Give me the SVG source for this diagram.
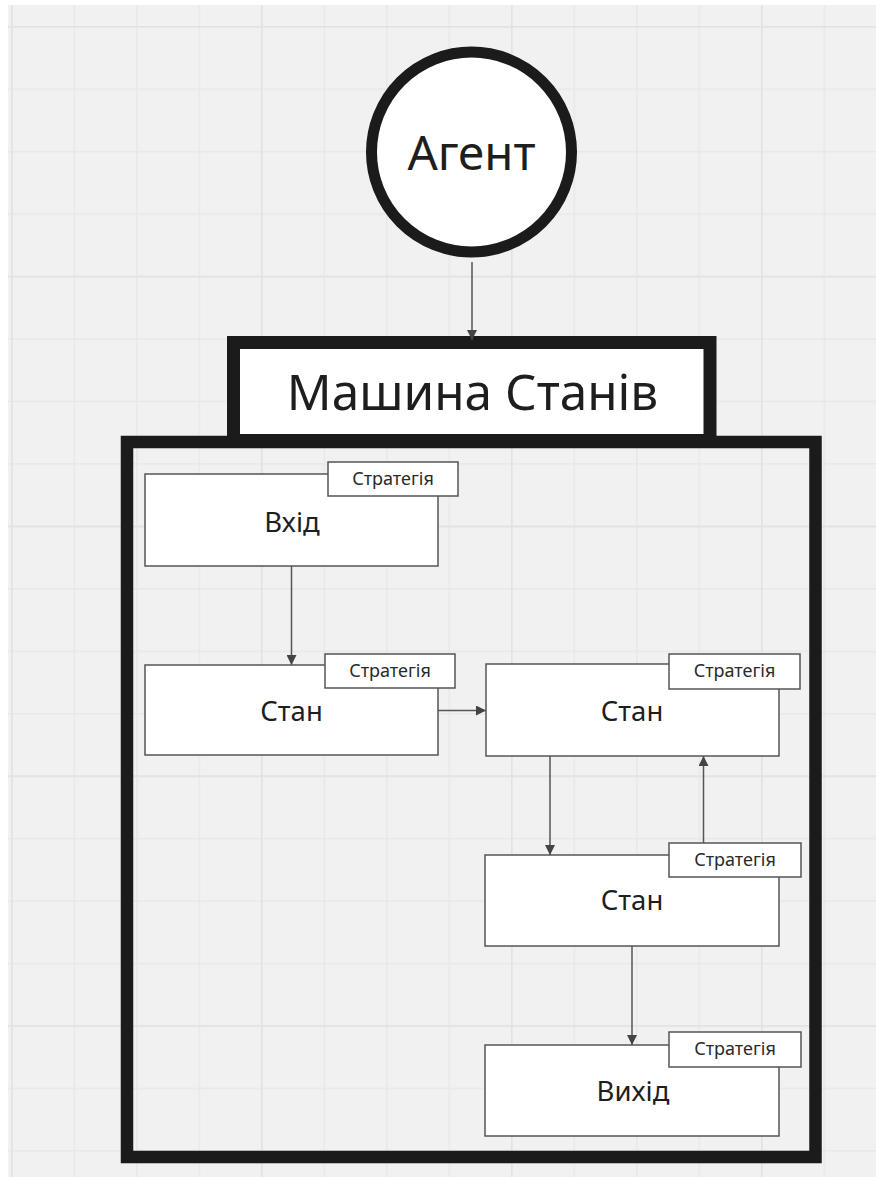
<svg xmlns="http://www.w3.org/2000/svg" width="876" height="1177" viewBox="0 0 876 1177">
<defs>
<pattern id="minor" x="11" y="26" width="62.5" height="62.45" patternUnits="userSpaceOnUse">
<path d="M0.75 0V62.45M0 0.75H62.5" stroke="#e8e8e8" stroke-width="1.5" fill="none"/>
</pattern>
<pattern id="major" x="11" y="26" width="250" height="249.8" patternUnits="userSpaceOnUse">
<path d="M0.75 0V249.8M0 0.75H250" stroke="#e2e2e2" stroke-width="1.5" fill="none"/>
</pattern>
<marker id="ah" viewBox="0 0 10 10" refX="10" refY="5" markerWidth="10" markerHeight="10" markerUnits="userSpaceOnUse" orient="auto">
<path d="M0 0L10 5L0 10Z" fill="#444"/>
</marker>
<style>
.box{fill:#fff;stroke:#555;stroke-width:1.5}
.tag{fill:#fff;stroke:#555;stroke-width:1.5}
.lbl{font-family:"Noto Sans","Open Sans",sans-serif;fill:#1e1e1e;text-anchor:middle}
.big{font-size:27.5px}
.small{font-size:18px;fill:#2a2a2a}
.conn{stroke:#555;stroke-width:1.5;fill:none;marker-end:url(#ah)}
</style>
</defs>
<rect width="876" height="1177" fill="#fff"/>
<rect x="8" y="5" width="868" height="1172" fill="#f1f1f1"/>
<rect x="8" y="5" width="868" height="1172" fill="url(#minor)"/>
<rect x="8" y="5" width="868" height="1172" fill="url(#major)"/>

<g id="agent">
<circle cx="471.5" cy="152" r="100" fill="#fff" stroke="#1b1b1b" stroke-width="11"/>
<text class="lbl" x="471.5" y="170" font-size="47.5">Агент</text>
</g>

<g id="machine-title">
<rect x="233.5" y="342.5" width="476.5" height="98" fill="#fff" stroke="#1b1b1b" stroke-width="13"/>
<text class="lbl" x="472.5" y="410" font-size="49.5">Машина Станів</text>
</g>

<g id="machine">
<rect x="127" y="442" width="688.5" height="715" fill="none" stroke="#1b1b1b" stroke-width="12.5"/>
</g>

<g id="connectors">
<path class="conn" d="M472 262V340"/>
<path class="conn" d="M291.5 566V665"/>
<path class="conn" d="M438 710.5H486"/>
<path class="conn" d="M550 756V855"/>
<path class="conn" d="M703.5 843V756"/>
<path class="conn" d="M632 946V1045"/>
</g>

<g id="node-input">
<rect class="box" x="145" y="474" width="293" height="92"/>
<text class="lbl big" x="292" y="532">Вхід</text>
<rect class="tag" x="328" y="462" width="130" height="34"/>
<text class="lbl small" x="393" y="485">Стратегія</text>
</g>

<g id="node-state1">
<rect class="box" x="145" y="665" width="293" height="90"/>
<text class="lbl big" x="291.5" y="721">Стан</text>
<rect class="tag" x="325" y="654" width="130" height="34"/>
<text class="lbl small" x="390" y="677">Стратегія</text>
</g>

<g id="node-state2">
<rect class="box" x="486" y="664" width="293" height="92"/>
<text class="lbl big" x="632" y="721">Стан</text>
<rect class="tag" x="669" y="654" width="131" height="35"/>
<text class="lbl small" x="734.5" y="677">Стратегія</text>
</g>

<g id="node-state3">
<rect class="box" x="485" y="855" width="294" height="91"/>
<text class="lbl big" x="632" y="910">Стан</text>
<rect class="tag" x="669" y="843" width="132" height="34"/>
<text class="lbl small" x="735" y="866">Стратегія</text>
</g>

<g id="node-output">
<rect class="box" x="485" y="1045" width="294" height="91"/>
<text class="lbl big" x="633" y="1101">Вихід</text>
<rect class="tag" x="669" y="1032" width="132" height="35"/>
<text class="lbl small" x="735" y="1055">Стратегія</text>
</g>
</svg>
